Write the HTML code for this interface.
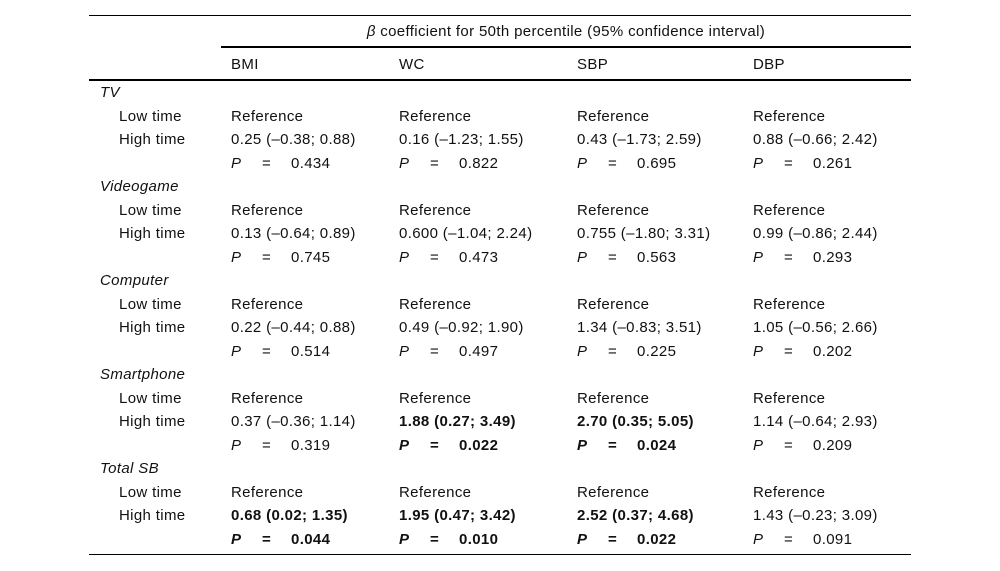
<!DOCTYPE html>
<html><head><meta charset="utf-8"><style>
html,body{margin:0;padding:0;background:#fff;}
#t{position:relative;width:1000px;height:571px;font-family:"Liberation Sans",Arial,sans-serif;font-size:15px;letter-spacing:0.35px;color:#111;}
.c{position:absolute;white-space:nowrap;line-height:18px;}
.l{position:absolute;background:#000;}
</style></head><body>
<div id="t">
<div class="l" style="left:89px;top:15px;width:822px;height:1px"></div>
<div class="c" style="left:221px;width:690px;text-align:center;top:23px"><i>β</i> coefficient for 50th percentile (95% confidence interval)</div>
<div class="l" style="left:221px;top:46px;width:690px;height:2px"></div>
<div class="c" style="left:231px;top:56px">BMI</div>
<div class="c" style="left:399px;top:56px">WC</div>
<div class="c" style="left:577px;top:56px">SBP</div>
<div class="c" style="left:753px;top:56px">DBP</div>
<div class="l" style="left:89px;top:79px;width:822px;height:2px"></div>
<div class="l" style="left:89px;top:554px;width:822px;height:1px"></div>
</div>
<script>
const groups=["TV","Videogame","Computer","Smartphone","Total SB"];
const highVals=[
["0.25 (\u20130.38; 0.88)","0.16 (\u20131.23; 1.55)","0.43 (\u20131.73; 2.59)","0.88 (\u20130.66; 2.42)"],
["0.13 (\u20130.64; 0.89)","0.600 (\u20131.04; 2.24)","0.755 (\u20131.80; 3.31)","0.99 (\u20130.86; 2.44)"],
["0.22 (\u20130.44; 0.88)","0.49 (\u20130.92; 1.90)","1.34 (\u20130.83; 3.51)","1.05 (\u20130.56; 2.66)"],
["0.37 (\u20130.36; 1.14)","1.88 (0.27; 3.49)","2.70 (0.35; 5.05)","1.14 (\u20130.64; 2.93)"],
["0.68 (0.02; 1.35)","1.95 (0.47; 3.42)","2.52 (0.37; 4.68)","1.43 (\u20130.23; 3.09)"]];
const pVals=[["0.434","0.822","0.695","0.261"],["0.745","0.473","0.563","0.293"],["0.514","0.497","0.225","0.202"],["0.319","0.022","0.024","0.209"],["0.044","0.010","0.022","0.091"]];
const bold=[[0,0,0,0],[0,0,0,0],[0,0,0,0],[0,1,1,0],[1,1,1,0]];
const colX=[231,399,577,753];
const t=document.getElementById('t');
function add(x,y,html,name,b){const d=document.createElement('div');d.className='c';d.style.left=x+'px';d.style.top=(y-9)+'px';if(b)d.style.fontWeight='bold';d.innerHTML=html;


t.appendChild(d);}
groups.forEach((g,gi)=>{
 const y0=93+gi*4*23.5;
 add(100,y0,'<i>'+g+'</i>','group-label',0);
 add(119,y0+23.5,'Low time','row-low-time',0);
 add(119,y0+47,'High time','row-high-time',0);
 colX.forEach((x,ci)=>{
  add(x,y0+23.5,'Reference','cell-reference',0);
  add(x,y0+47,highVals[gi][ci],'cell-coefficient',bold[gi][ci]);
  add(x,y0+70.5,'<i>P</i>','cell-p-label',bold[gi][ci]);
  add(x+31,y0+70.5,'=','cell-p-equals',bold[gi][ci]);
  add(x+60,y0+70.5,pVals[gi][ci],'cell-p-value',bold[gi][ci]);
 });
});
</script>
</body></html>
